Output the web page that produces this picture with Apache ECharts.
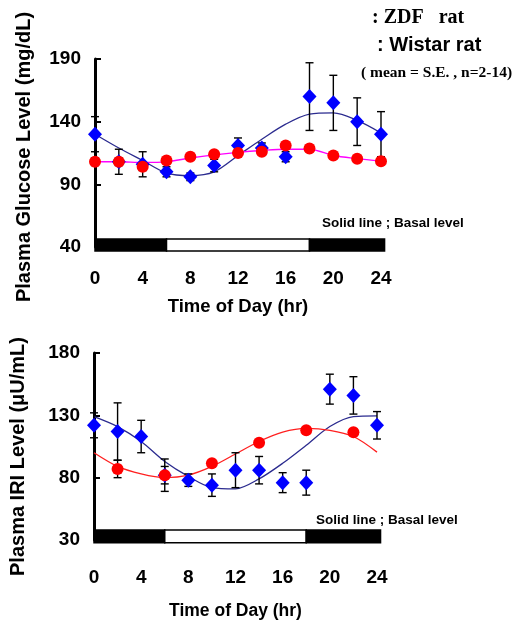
<!DOCTYPE html>
<html>
<head>
<meta charset="utf-8">
<script src="https://cdn.jsdelivr.net/npm/echarts@6/dist/echarts.min.js"></script>
<style>
  html, body { margin: 0; padding: 0; background: #fff; }
  #chart { width: 518px; height: 631px; }
</style>
</head>
<body>
<div id="chart"></div>
<script>
// time points (hr)
const hours = [0, 2, 4, 6, 8, 10, 12, 14, 16, 18, 20, 22, 24];

// plasma glucose (mg/dL)
const glucoseZdf = [130, 108, 106, 100, 96, 105, 121, 119, 112, 160, 155, 140, 130];
const glucoseZdfSE = [14, 10, 10, 4, 3, 5, 6, 4, 4, 27, 22, 19, 18];
const glucoseWistar = [108, 108, 104, 109, 112, 114, 115, 116, 121, 118.5, 113, 110.5, 108.5];
const glucoseWistarSE = [3, 3, 3, 2, 2, 2, 2, 2, 2, 2, 2, 2, 2];
const glucoseZdfBasal = [130, 119, 109, 99, 97, 100, 113, 126, 138, 146, 147, 141, 131];
const glucoseWistarBasal = [108, 108, 107.5, 108, 111, 113.5, 115.5, 117, 118, 118, 113, 110.5, 108.5];

// plasma IRI (uU/mL)
const iriZdf = [122, 117, 113, 82, 78, 74, 86, 86, 76, 76, 151, 146, 122];
const iriZdfSE = [10, 23, 13, 13, 5, 9, 14, 11, 8, 10, 12, 15, 11];
const iriWistarHours = [2, 6, 10, 14, 18, 22];
const iriWistar = [87, 82, 91.5, 108, 118, 116.5];
const iriWistarSE = [7, 7, 2, 2, 2, 2];
const iriZdfBasal = [129, 121, 109, 93, 81, 72, 71, 79, 91.5, 106, 121, 129, 129.5];
const iriWistarBasal = [100, 89, 83, 80, 82, 89, 99, 109, 116.5, 119.5, 118, 113, 100.5];

// light / dark phases (hr)
const phaseStart = [0, 6, 18];
const phaseEnd = [6, 18, 24.3];
const phaseDark = [true, false, true];
const glucoseBand = [36.8, 46.4];
const iriBand = [27.8, 38];

const chart = echarts.init(document.getElementById('chart'));

const pairs = (xs, ys) => xs.map((x, i) => [x, ys[i]]);
const errs = (xs, ys, se) => xs.map((x, i) => [x, ys[i] - se[i], ys[i] + se[i]]);
const phases = (band) => phaseStart.map((s, i) => [s, phaseEnd[i], band[0], band[1], phaseDark[i] ? 1 : 0]);

function errorBar(params, api) {
  const x = api.value(0);
  const lo = api.coord([x, api.value(1)]);
  const hi = api.coord([x, api.value(2)]);
  const w = 4;
  const st = { stroke: '#000', lineWidth: 1.4 };
  return {
    type: 'group',
    children: [
      { type: 'line', shape: { x1: hi[0], y1: hi[1], x2: lo[0], y2: lo[1] }, style: st },
      { type: 'line', shape: { x1: hi[0] - w, y1: hi[1], x2: hi[0] + w, y2: hi[1] }, style: st },
      { type: 'line', shape: { x1: lo[0] - w, y1: lo[1], x2: lo[0] + w, y2: lo[1] }, style: st }
    ]
  };
}

function phaseBar(params, api) {
  const a = api.coord([api.value(0), api.value(3)]);
  const b = api.coord([api.value(1), api.value(2)]);
  return {
    type: 'rect',
    shape: { x: a[0], y: a[1], width: b[0] - a[0], height: b[1] - a[1] },
    style: { fill: api.value(4) ? '#000' : '#fff', stroke: '#000', lineWidth: 1.5 }
  };
}

const sans = 'Liberation Sans, Arial';
const serif = 'Liberation Serif, Times New Roman';
const tickFont = { color: '#000', fontSize: 19, fontWeight: 'bold', fontFamily: sans };

function xAxis(gridIndex, margin, gap, size) {
  return {
    type: 'value', gridIndex, min: 0, max: 24, interval: 4,
    axisLine: { show: false }, axisTick: { show: false }, splitLine: { show: false },
    axisLabel: { ...tickFont, margin },
    name: 'Time of Day (hr)', nameLocation: 'middle', nameGap: gap,
    nameTextStyle: { color: '#000', fontSize: size, fontWeight: 'bold', fontFamily: sans }
  };
}

function yAxis(gridIndex, min, max, name, gap, shift) {
  return {
    type: 'value', gridIndex, min, max, interval: 50,
    axisLine: { show: true, lineStyle: { color: '#000', width: 3 } },
    axisTick: { show: true, inside: true, length: 6, lineStyle: { color: '#000', width: 2 } },
    splitLine: { show: false },
    axisLabel: { ...tickFont, margin: 14 },
    name, nameLocation: 'middle', nameGap: gap,
    nameTextStyle: { color: '#000', fontSize: 20, fontWeight: 'bold', fontFamily: sans, padding: [0, shift, 0, 0] }
  };
}

function panel(idx, zdf, zdfSE, wHours, wistar, wistarSE, zdfBasal, wistarBasal, wistarColor, band) {
  const ax = { xAxisIndex: idx, yAxisIndex: idx };
  return [
    { type: 'custom', ...ax, renderItem: phaseBar, data: phases(band), clip: false, z: 1 },
    { type: 'line', ...ax, data: pairs(hours, zdfBasal), smooth: 0.3, symbol: 'none',
      lineStyle: { color: '#2b2b8f', width: 1.3 }, z: 2 },
    { type: 'line', ...ax, data: pairs(hours, wistarBasal), smooth: 0.3, symbol: 'none',
      lineStyle: { color: wistarColor, width: 1.3 }, z: 2 },
    { type: 'custom', ...ax, renderItem: errorBar, data: errs(hours, zdf, zdfSE), z: 3 },
    { type: 'custom', ...ax, renderItem: errorBar, data: errs(wHours, wistar, wistarSE), z: 3 },
    { type: 'scatter', ...ax, data: pairs(hours, zdf), symbol: 'diamond', symbolSize: [14, 15],
      itemStyle: { color: '#0000ff', opacity: 1 }, z: 4 },
    { type: 'scatter', ...ax, data: pairs(wHours, wistar), symbol: 'circle', symbolSize: 12,
      itemStyle: { color: '#ff0000', opacity: 1 }, z: 5 }
  ];
}

const note = (text, left, top, family, size) => ({
  text, left, top, padding: 0,
  textStyle: { fontFamily: family, fontWeight: 'bold', fontSize: size, color: '#000' }
});

const option = {
  animation: false,
  backgroundColor: '#fff',
  title: [
    note(': ZDF   rat', 372, 8, serif, 20),
    note(': Wistar rat', 377, 35, sans, 20),
    note('( mean = S.E. , n=2-14)', 361, 65, serif, 15.5),
    note('Solid line ; Basal level', 322, 216, sans, 13.5),
    note('Solid line ; Basal level', 316, 513, sans, 13.5)
  ],
  grid: [
    { left: 95, top: 59, right: 137, height: 188 },
    { left: 94, top: 353, right: 141, height: 187 }
  ],
  xAxis: [xAxis(0, 22, 50, 18.5), xAxis(1, 28, 62, 17.5)],
  yAxis: [
    yAxis(0, 40, 190, 'Plasma Glucose Level (mg/dL)', 61, 8),
    yAxis(1, 30, 180, 'Plasma IRI Level (\u03bcU/mL)', 66, 20)
  ],
  series: [
    ...panel(0, glucoseZdf, glucoseZdfSE, hours, glucoseWistar, glucoseWistarSE,
      glucoseZdfBasal, glucoseWistarBasal, '#ff00ff', glucoseBand),
    ...panel(1, iriZdf, iriZdfSE, iriWistarHours, iriWistar, iriWistarSE,
      iriZdfBasal, iriWistarBasal, '#ff2020', iriBand)
  ]
};

chart.setOption(option);
</script>
</body>
</html>
